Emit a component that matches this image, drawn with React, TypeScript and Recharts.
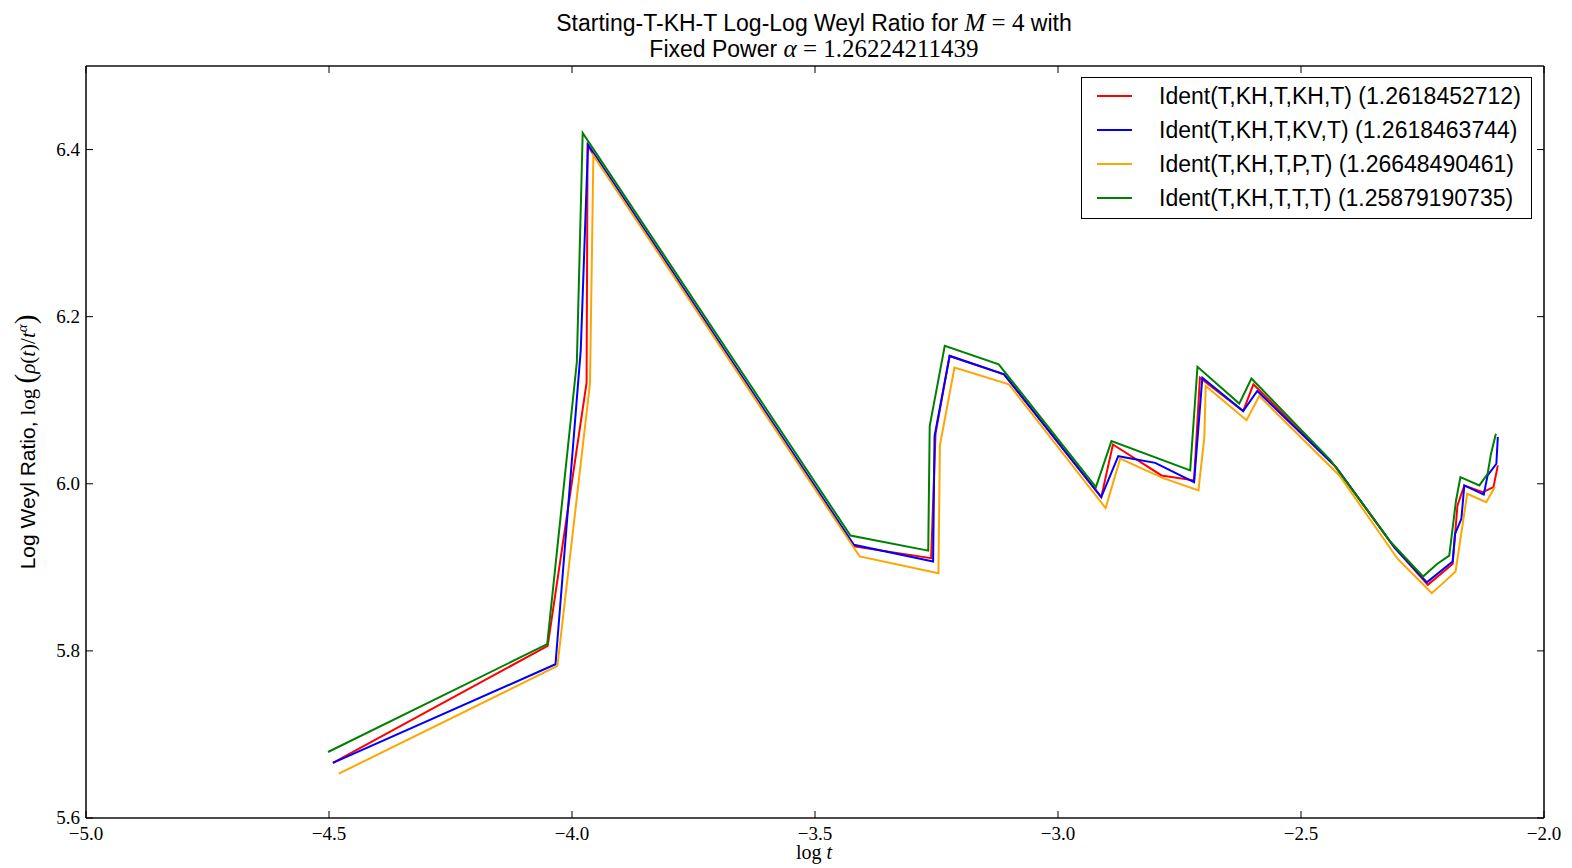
import React from "react";
import { LineChart, Line, XAxis, YAxis } from "recharts";

const xTicks = [-5.0, -4.5, -4.0, -3.5, -3.0, -2.5, -2.0];
const yTicks = [5.6, 5.8, 6.0, 6.2, 6.4];

const seriesNames = [
  "Ident(T,KH,T,KH,T) (1.2618452712)",
  "Ident(T,KH,T,KV,T) (1.2618463744)",
  "Ident(T,KH,T,P,T) (1.26648490461)",
  "Ident(T,KH,T,T,T) (1.25879190735)",
];
const seriesColors = ["#ff0000", "#0000ff", "#ffa500", "#008000"];

const redX = [-4.492, -4.05, -3.97, -3.968, -3.42, -3.261, -3.252, -3.223, -3.111, -2.911, -2.887, -2.787, -2.72, -2.708, -2.619, -2.598, -2.428, -2.308, -2.239, -2.188, -2.178, -2.164, -2.126, -2.104, -2.095];
const redY = [5.666, 5.806, 6.121, 6.405, 5.925, 5.911, 6.06, 6.153, 6.131, 5.984, 6.047, 6.01, 6.004, 6.127, 6.087, 6.119, 6.02, 5.924, 5.879, 5.904, 5.974, 5.998, 5.99, 5.996, 6.022];

const blueX = [-4.492, -4.034, -3.982, -3.967, -3.42, -3.257, -3.254, -3.223, -3.111, -2.911, -2.876, -2.8, -2.72, -2.703, -2.619, -2.59, -2.428, -2.308, -2.241, -2.188, -2.183, -2.17, -2.164, -2.124, -2.116, -2.098, -2.095];
const blueY = [5.666, 5.784, 6.16, 6.406, 5.927, 5.907, 6.057, 6.153, 6.131, 5.984, 6.033, 6.025, 6.002, 6.127, 6.087, 6.111, 6.02, 5.924, 5.882, 5.907, 5.94, 5.958, 5.998, 5.987, 6.01, 6.024, 6.056];

const orangeX = [-4.48, -4.03, -3.963, -3.956, -3.408, -3.246, -3.243, -3.213, -3.101, -2.902, -2.872, -2.785, -2.711, -2.699, -2.696, -2.612, -2.586, -2.421, -2.301, -2.231, -2.206, -2.182, -2.158, -2.119, -2.101];
const orangeY = [5.653, 5.782, 6.12, 6.393, 5.913, 5.893, 6.046, 6.139, 6.119, 5.971, 6.03, 6.007, 5.992, 6.055, 6.117, 6.076, 6.105, 6.01, 5.91, 5.869, 5.882, 5.895, 5.988, 5.978, 5.996];

const greenX = [-4.502, -4.051, -3.99, -3.978, -3.427, -3.267, -3.264, -3.233, -3.122, -2.922, -2.89, -2.728, -2.713, -2.627, -2.602, -2.439, -2.315, -2.249, -2.22, -2.195, -2.181, -2.172, -2.133, -2.116, -2.109, -2.099];
const greenY = [5.679, 5.808, 6.146, 6.42, 5.938, 5.92, 6.069, 6.165, 6.143, 5.996, 6.051, 6.016, 6.14, 6.096, 6.126, 6.028, 5.93, 5.889, 5.904, 5.914, 5.98, 6.008, 5.998, 6.012, 6.036, 6.06];

const build = (xs: number[], ys: number[]) => xs.map((x, i) => ({ x, y: ys[i] }));
const seriesData = [build(redX, redY), build(blueX, blueY), build(orangeX, orangeY), build(greenX, greenY)];

const W = 1572;
const H = 868;
const M = { top: 65, right: 27, bottom: 49, left: 85 };
const TICK = 7;
const serif = "'Liberation Serif', 'DejaVu Serif', serif";
const sans = "'Liberation Sans', Arial, sans-serif";
const fmt = (v: number) => (v < 0 ? "\u2212" : "") + Math.abs(v).toFixed(1);
const axisStyle = { stroke: "#111", strokeWidth: 1.6 };

const BottomTick = (p: any) => (
  <g>
    <line x1={p.x} x2={p.x} y1={p.y} y2={p.y - TICK} stroke="#000" strokeWidth={1} />
    <text x={p.x} y={p.y + 22} textAnchor="middle" fontFamily={serif} fontSize={19} fill="#000">
      {fmt(p.payload.value)}
    </text>
  </g>
);
const TopTick = (p: any) => (
  <line x1={p.x} x2={p.x} y1={p.y} y2={p.y + TICK} stroke="#000" strokeWidth={1} />
);
const LeftTick = (p: any) => (
  <g>
    <line x1={p.x} x2={p.x + TICK} y1={p.y} y2={p.y} stroke="#000" strokeWidth={1} />
    <text x={p.x - 6} y={p.y + 6} textAnchor="end" fontFamily={serif} fontSize={19} fill="#000">
      {p.payload.value.toFixed(1)}
    </text>
  </g>
);
const RightTick = (p: any) => (
  <line x1={p.x} x2={p.x - TICK} y1={p.y} y2={p.y} stroke="#000" strokeWidth={1} />
);

const TitleLabel = () => (
  <g>
    <text x={814} y={31} textAnchor="middle" fontFamily={sans} fontSize={23} fill="#000">
      Starting-T-KH-T Log-Log Weyl Ratio for{" "}
      <tspan fontFamily={serif} fontSize={25} fontStyle="italic">M</tspan>
      <tspan fontFamily={serif} fontSize={25}> = 4</tspan> with
    </text>
    <text x={814} y={57} textAnchor="middle" fontFamily={sans} fontSize={23} fill="#000">
      Fixed Power <tspan fontFamily={serif} fontSize={25} fontStyle="italic">α</tspan>
      <tspan fontFamily={serif} fontSize={25}> = 1.26224211439</tspan>
    </text>
  </g>
);

const XLabel = () => (
  <text x={814} y={859} textAnchor="middle" fontFamily={serif} fontSize={20} fill="#000">
    log <tspan fontStyle="italic">t</tspan>
  </text>
);

const YLabel = () => (
  <text
    x={0}
    y={0}
    transform="translate(35,442) rotate(-90)"
    textAnchor="middle"
    fontFamily={sans}
    fontSize={21}
    fill="#000"
  >
    Log Weyl Ratio,{" "}
    <tspan fontFamily={serif}>log </tspan>
    <tspan fontFamily={serif} fontSize={29}>(</tspan>
    <tspan fontFamily={serif} fontStyle="italic">ρ</tspan>
    <tspan fontFamily={serif}>(</tspan>
    <tspan fontFamily={serif} fontStyle="italic">t</tspan>
    <tspan fontFamily={serif}>)/</tspan>
    <tspan fontFamily={serif} fontStyle="italic">t</tspan>
    <tspan fontFamily={serif} fontStyle="italic" fontSize={15} dy={-8}>α</tspan>
    <tspan fontFamily={serif} fontSize={29} dy={8}>)</tspan>
  </text>
);

const LegendBox = () => (
  <div
    style={{
      position: "absolute",
      left: 1081,
      top: 77,
      border: "1.5px solid #000",
      background: "#fff",
      width: 449,
      height: 140,
    }}
  >
    {seriesNames.map((n, i) => (
      <div
        key={n}
        style={{
          position: "absolute",
          left: 0,
          top: 4 + i * 34,
          height: 28,
          display: "flex",
          alignItems: "center",
          whiteSpace: "nowrap",
        }}
      >
        <div style={{ marginLeft: 15, width: 35, height: 2, background: seriesColors[i] }} />
        <span style={{ marginLeft: 27, fontFamily: sans, fontSize: 23, color: "#000" }}>{n}</span>
      </div>
    ))}
  </div>
);

export default function App() {
  return (
    <div style={{ position: "absolute", left: 0, top: 0, width: W, height: H, background: "#fff" }}>
      <LineChart width={W} height={H} margin={M}>
        <XAxis
          xAxisId="b"
          dataKey="x"
          type="number"
          domain={[-5, -2]}
          ticks={xTicks}
          interval={0}
          orientation="bottom"
          height={1}
          tickSize={0}
          tickMargin={0}
          tick={BottomTick}
          axisLine={axisStyle}
          allowDataOverflow
          label={{ content: XLabel }}
        />
        <XAxis
          xAxisId="t"
          dataKey="x"
          type="number"
          domain={[-5, -2]}
          ticks={xTicks}
          interval={0}
          orientation="top"
          height={1}
          tickSize={0}
          tickMargin={0}
          tick={TopTick}
          axisLine={axisStyle}
          allowDataOverflow
          label={{ content: TitleLabel }}
        />
        <YAxis
          yAxisId="l"
          type="number"
          domain={[5.6, 6.5]}
          ticks={yTicks}
          interval={0}
          orientation="left"
          width={1}
          tickSize={0}
          tickMargin={0}
          tick={LeftTick}
          axisLine={axisStyle}
          allowDataOverflow
          label={{ content: YLabel }}
        />
        <YAxis
          yAxisId="r"
          type="number"
          domain={[5.6, 6.5]}
          ticks={yTicks}
          interval={0}
          orientation="right"
          width={1}
          tickSize={0}
          tickMargin={0}
          tick={RightTick}
          axisLine={axisStyle}
          allowDataOverflow
        />
        {seriesData.map((d, i) => (
          <Line
            key={seriesNames[i]}
            xAxisId="b"
            yAxisId="l"
            data={d}
            dataKey="y"
            name={seriesNames[i]}
            type="linear"
            stroke={seriesColors[i]}
            strokeWidth={2}
            dot={false}
            activeDot={false}
            isAnimationActive={false}
          />
        ))}
      </LineChart>
      <LegendBox />
    </div>
  );
}
